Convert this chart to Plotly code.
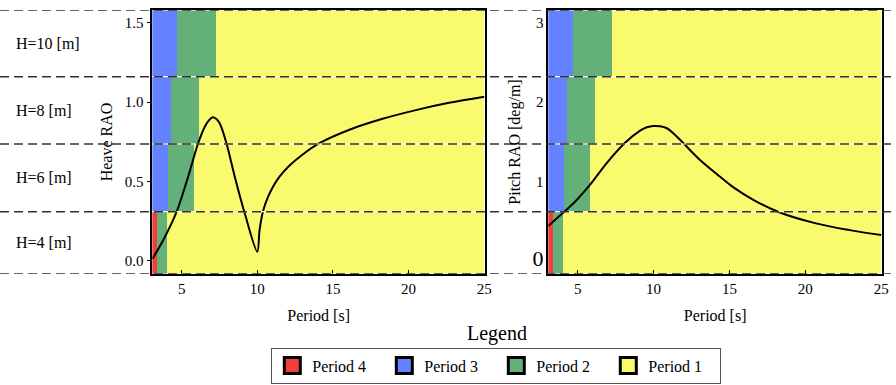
import plotly.graph_objects as go

# ---------------- data ----------------
wave_labels = ["H=4 [m]", "H=6 [m]", "H=8 [m]", "H=10 [m]"]
# band edges on the heave axis (bottom -> top); pitch axis uses the same bands
band_edges_heave = [-0.0846, 0.309, 0.736, 1.161, 1.582]
band_edges_pitch = [-0.169, 0.618, 1.472, 2.322, 3.164]

period_start = 3.0
period_stop = 25.0
period4_end = [3.42, 3.0, 3.0, 3.0]    # red zone end
period3_end = [3.42, 4.14, 4.30, 4.69]  # blue zone end
period2_end = [4.05, 5.81, 6.15, 7.29]  # green zone end

heave_T = [3.08, 3.90, 4.67, 5.43, 6.09, 6.53, 6.80, 7.04, 7.28, 7.52, 7.96, 8.51, 9.17,
           10.0, 10.15, 10.37, 10.70, 11.03, 11.47, 12.13, 13.00, 14.11, 16.09, 18.28, 20.48, 22.67, 25.0]
heave_rao = [0.012, 0.151, 0.309, 0.530, 0.741, 0.845, 0.885, 0.905, 0.895, 0.865, 0.741, 0.530, 0.299,
             0.056, 0.193, 0.309, 0.400, 0.465, 0.530, 0.600, 0.670, 0.741, 0.826, 0.895, 0.950, 0.996, 1.035]

pitch_T = [3.06, 4.16, 4.93, 5.81, 6.91, 8.12, 9.11, 9.55, 9.99, 10.43, 10.87, 11.40, 11.97, 13.06,
           14.38, 15.26, 16.60, 18.19, 20.70, 22.92, 25.0]
pitch_rao = [0.437, 0.626, 0.765, 0.958, 1.232, 1.487, 1.640, 1.683, 1.700, 1.695, 1.671, 1.590, 1.481, 1.270,
             1.059, 0.925, 0.765, 0.617, 0.470, 0.385, 0.323]

x_ticks = [5, 10, 15, 20, 25]
heave_ticks = [0.0, 0.5, 1.0, 1.5]
heave_ticktext = ["0.0", "0.5", "1.0", "1.5"]
pitch_ticks = [0, 1, 2, 3]
pitch_ticktext = ['<span style="font-size:22px">0</span>', "1", "2", "3"]

period_names = ["Period 4", "Period 3", "Period 2", "Period 1"]
period_colors = ["#F23D3D", "#6482FF", "#63B179", "#FAFA6E"]

FONT = "Liberation Serif"

# ---------------- figure ----------------
fig = go.Figure()

def band_geom(edges):
    centers = [(edges[i] + edges[i + 1]) / 2 for i in range(4)]
    widths = [edges[i + 1] - edges[i] for i in range(4)]
    return centers, widths

starts = [[period_start] * 4, period4_end, period3_end, period2_end]
ends = [period4_end, period3_end, period2_end, [period_stop] * 4]

for xa, ya, edges in (("x", "y", band_edges_heave), ("x2", "y2", band_edges_pitch)):
    centers, widths = band_geom(edges)
    for k in range(4):
        fig.add_trace(go.Bar(
            orientation="h", y=centers, width=widths,
            base=starts[k], x=[e - s for s, e in zip(starts[k], ends[k])],
            marker=dict(color=period_colors[k], line=dict(width=0)),
            xaxis=xa, yaxis=ya, showlegend=False, hoverinfo="skip"))

fig.add_trace(go.Scatter(x=heave_T, y=heave_rao, mode="lines",
                         line=dict(color="black", width=2, shape="spline", smoothing=0.9),
                         xaxis="x", yaxis="y", showlegend=False))
fig.add_trace(go.Scatter(x=pitch_T, y=pitch_rao, mode="lines",
                         line=dict(color="black", width=2, shape="spline", smoothing=1.0),
                         xaxis="x2", yaxis="y2", showlegend=False))

# legend entries
for name, col in zip(period_names, period_colors):
    fig.add_trace(go.Scatter(x=[None], y=[None], mode="markers", name=name,
                             marker=dict(symbol="square", size=16, color=col, line=dict(color="black", width=3)),
                             xaxis="x", yaxis="y"))

# band boundary lines
shapes = []
for e in band_edges_heave:
    shapes.append(dict(type="line", xref="x", yref="y", x0=period_start, x1=period_stop, y0=e, y1=e,
                       line=dict(color="white", width=1.2), layer="above"))
for e in band_edges_pitch:
    shapes.append(dict(type="line", xref="x2", yref="y2", x0=period_start, x1=period_stop, y0=e, y1=e,
                       line=dict(color="white", width=1.2), layer="above"))
for e in band_edges_heave:
    shapes.append(dict(type="line", xref="paper", yref="y", x0=0, x1=1, y0=e, y1=e,
                       line=dict(color="#333333", width=1.5, dash="9px,5px"), layer="above"))

annotations = []
centers, _ = band_geom(band_edges_heave)
for lab, c in zip(wave_labels, centers):
    annotations.append(dict(text=lab, xref="paper", yref="y", x=14 / 896, y=c, xanchor="left", yanchor="middle",
                            showarrow=False, font=dict(family=FONT, size=16, color="black")))
annotations.append(dict(text="Legend", xref="paper", yref="paper", x=497 / 896, y=1 - 333 / 385,
                        xanchor="center", yanchor="middle", showarrow=False,
                        font=dict(family=FONT, size=20, color="black")))

axis_common = dict(showline=True, mirror=True, linecolor="black", linewidth=1.5, showgrid=False, zeroline=False,
                   automargin=False,
                   tickfont=dict(family=FONT, size=15, color="black"), tickcolor="black")

fig.update_layout(
    template="none",
    width=896, height=385, autosize=False, margin=dict(l=0, r=0, t=0, b=0, pad=0),
    paper_bgcolor="white", plot_bgcolor="white",
    barmode="overlay", bargap=0,
    font=dict(family=FONT, color="black"),
    xaxis=dict(domain=[152.3 / 896, 485 / 896], range=[3.06, 25.05], tickvals=x_ticks, ticks="inside", ticklen=4,
               title=dict(text="Period [s]", font=dict(family=FONT, size=16), standoff=14), anchor="y", **axis_common),
    yaxis=dict(domain=[1 - 274 / 385, 1 - 10 / 385], range=[band_edges_heave[0], band_edges_heave[-1]],
               tickvals=heave_ticks, ticktext=heave_ticktext, ticks="outside", ticklen=4,
               title=dict(text="Heave RAO", font=dict(family=FONT, size=16), standoff=8), anchor="x", **axis_common),
    xaxis2=dict(domain=[548.3 / 896, 882 / 896], range=[3.06, 25.05], tickvals=x_ticks, ticks="inside", ticklen=4,
                title=dict(text="Period [s]", font=dict(family=FONT, size=16), standoff=14), anchor="y2", **axis_common),
    yaxis2=dict(domain=[1 - 274 / 385, 1 - 10 / 385], range=[band_edges_pitch[0], band_edges_pitch[-1]],
                tickvals=pitch_ticks, ticktext=pitch_ticktext, ticks="",
                title=dict(text="Pitch RAO [deg/m]", font=dict(family=FONT, size=16), standoff=8), anchor="x2",
                **axis_common),
    shapes=shapes, annotations=annotations,
    legend=dict(orientation="h", x=496.3 / 896, xanchor="center", y=1 - 347.7 / 385, yanchor="top",
                bordercolor="#555555", borderwidth=1, bgcolor="white",
                font=dict(family=FONT, size=16, color="black"), itemsizing="trace",
                entrywidth=67, entrywidthmode="pixels"),
)

fig.write_html(
    "out.html",
    config={"responsive": False, "displayModeBar": False},
    post_script=("document.documentElement.style.overflow='hidden';"
                 "document.body.style.overflow='hidden';"
                 "document.body.style.margin='0px';"),
)
